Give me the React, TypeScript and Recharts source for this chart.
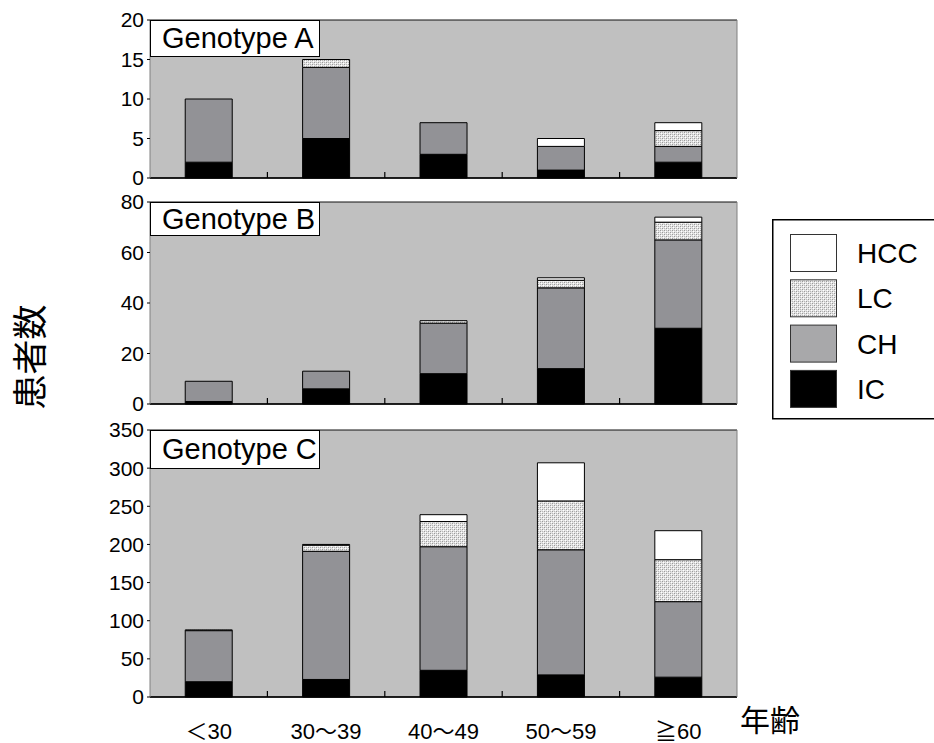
import { BarChart, Bar, XAxis, YAxis, CartesianGrid } from 'recharts';

const AGES = ['＜30', '30～39', '40～49', '50～59', '≧60'];

// Genotype A
const A_IC = [2, 5, 3, 1, 2];
const A_CH = [8, 9, 4, 3, 2];
const A_LC = [0, 1, 0, 0, 2];
const A_HCC = [0, 0, 0, 1, 1];

// Genotype B
const B_IC = [1, 6, 12, 14, 30];
const B_CH = [8, 7, 20, 32, 35];
const B_LC = [0, 0, 1, 3, 7];
const B_HCC = [0, 0, 0, 1, 2];

// Genotype C
const C_IC = [20, 23, 35, 29, 26];
const C_CH = [67, 168, 162, 164, 99];
const C_LC = [1, 8, 33, 64, 55];
const C_HCC = [0, 1, 9, 50, 38];

const A_TICKS = [0, 5, 10, 15, 20];
const B_TICKS = [0, 20, 40, 60, 80];
const C_TICKS = [0, 50, 100, 150, 200, 250, 300, 350];

const FONT = "'Liberation Sans', Arial, sans-serif";
const CJK = "'Liberation Sans', 'Noto Sans CJK JP', sans-serif";
const CH_GRAY = '#929296';
const LABEL_GAP = 26;

const SERIES = [
  { key: 'ic', name: 'IC', fill: '#000000' },
  { key: 'ch', name: 'CH', fill: CH_GRAY },
  { key: 'lc', name: 'LC', fill: 'lc' },
  { key: 'hcc', name: 'HCC', fill: '#ffffff' },
];

const toRows = (ic: number[], ch: number[], lc: number[], hcc: number[]) =>
  AGES.map((age, i) => ({ age, ic: ic[i], ch: ch[i], lc: lc[i], hcc: hcc[i] }));

function DotPattern({ id }: { id: string }) {
  return (
    <pattern id={id} width="4" height="4" patternUnits="userSpaceOnUse">
      <rect width="4" height="4" fill="#e4e4e4" />
      <rect x="0" y="0" width="1" height="1" fill="#9a9a9a" />
      <rect x="2" y="2" width="1" height="1" fill="#9a9a9a" />
      <rect x="1" y="1" width="1" height="1" fill="#ffffff" />
      <rect x="3" y="3" width="1" height="1" fill="#ffffff" />
      <rect x="2" y="0" width="1" height="1" fill="#b8b8b8" />
      <rect x="0" y="2" width="1" height="1" fill="#b8b8b8" />
    </pattern>
  );
}

// category tick: label under the bar plus a short upward mark at the right edge of the band
function AgeTick(props: any) {
  const { x, y, payload, index, showLabel, gap } = props;
  const base = y - gap;
  const edge = x + (payload?.offset ?? 0);
  return (
    <g>
      {index < AGES.length - 1 && (
        <line x1={edge} x2={edge} y1={base} y2={base - 6} stroke="#000" strokeWidth={1.2} />
      )}
      {showLabel && (
        <text x={x} y={y} dy="0.71em" textAnchor="middle" fontSize={22} fontFamily={CJK} fill="#000">
          {payload.value}
        </text>
      )}
    </g>
  );
}

type PanelProps = {
  id: string;
  rows: ReturnType<typeof toRows>;
  max: number;
  ticks: number[];
  top: number;
  height: number;
  marginTop: number;
  marginBottom: number;
  showAges?: boolean;
};

function Panel({ id, rows, max, ticks, top, height, marginTop, marginBottom, showAges }: PanelProps) {
  const gap = showAges ? LABEL_GAP : 0;
  return (
    <div style={{ position: 'absolute', left: 0, top, width: 934, height }}>
      <BarChart
        width={934}
        height={height}
        data={rows}
        margin={{ top: marginTop, right: 196, left: 0, bottom: marginBottom }}
        barCategoryGap="30%"
      >
        <defs>
          <DotPattern id={`lc-${id}`} />
        </defs>
        <CartesianGrid vertical={false} stroke="#111" fill="#c0c0c0" fillOpacity={1} />
        <XAxis
          dataKey="age"
          height={showAges ? 46 : 2}
          axisLine={{ stroke: '#000', strokeWidth: 1.5 }}
          tickLine={false}
          tickSize={0}
          tickMargin={gap}
          tick={<AgeTick showLabel={!!showAges} gap={gap} />}
          interval={0}
        />
        <YAxis
          yAxisId="l"
          width={150}
          domain={[0, max]}
          ticks={ticks}
          interval={0}
          axisLine={{ stroke: '#808080' }}
          tickSize={3}
          tickMargin={3}
          tickLine={{ stroke: '#000' }}
          tick={{ fontSize: 21, fill: '#000', fontFamily: FONT }}
        />
        <YAxis
          yAxisId="r"
          orientation="right"
          width={1}
          domain={[0, max]}
          ticks={ticks}
          axisLine={{ stroke: '#808080' }}
          tick={false}
          tickLine={false}
        />
        {SERIES.map(s => (
          <Bar
            key={s.key}
            dataKey={s.key}
            name={s.name}
            stackId="a"
            yAxisId="l"
            fill={s.fill === 'lc' ? `url(#lc-${id})` : s.fill}
            stroke="#000"
            strokeWidth={1}
            isAnimationActive={false}
          />
        ))}
      </BarChart>
    </div>
  );
}

function GenotypeBox({ text, top, height }: { text: string; top: number; height: number }) {
  return (
    <div
      style={{
        position: 'absolute',
        left: 150,
        top,
        width: 170,
        height,
        boxSizing: 'border-box',
        border: '1px solid #000',
        background: '#fff',
        fontFamily: FONT,
        fontSize: 29,
        lineHeight: `${height - 2}px`,
        paddingLeft: 11,
        color: '#000',
        whiteSpace: 'nowrap',
      }}
    >
      {text}
    </div>
  );
}

function LegendBox() {
  const items = [...SERIES].reverse();
  return (
    <svg width={162} height={201} style={{ position: 'absolute', left: 772, top: 219 }}>
      <defs>
        <DotPattern id="lc-legend" />
      </defs>
      <rect x={0.75} y={0.75} width={180} height={199} fill="#fff" stroke="#000" strokeWidth={1.5} />
      {items.map((s, i) => {
        const y = 15 + i * 45.3;
        return (
          <g key={s.key}>
            <rect
              x={18.5}
              y={y + 0.5}
              width={46}
              height={37}
              fill={s.fill === 'lc' ? 'url(#lc-legend)' : s.key === 'ch' ? '#a8a8aa' : s.fill}
              stroke="#333"
              strokeWidth={1}
            />
            <text x={85} y={y + 29} fontSize={28} fontFamily={FONT} fill="#000">
              {s.name}
            </text>
          </g>
        );
      })}
    </svg>
  );
}

export default function App() {
  return (
    <div style={{ position: 'absolute', left: 0, top: 0, width: 934, height: 743, background: '#fff', overflow: 'hidden' }}>
      <Panel id="a" rows={toRows(A_IC, A_CH, A_LC, A_HCC)} max={20} ticks={A_TICKS} top={0} height={190} marginTop={20} marginBottom={10} />
      <Panel id="b" rows={toRows(B_IC, B_CH, B_LC, B_HCC)} max={80} ticks={B_TICKS} top={190} height={225} marginTop={12} marginBottom={9} />
      <Panel id="c" rows={toRows(C_IC, C_CH, C_LC, C_HCC)} max={350} ticks={C_TICKS} top={415} height={328} marginTop={15} marginBottom={0} showAges />
      <GenotypeBox text="Genotype A" top={20} height={37} />
      <GenotypeBox text="Genotype B" top={202} height={34} />
      <GenotypeBox text="Genotype C" top={430} height={39} />
      <LegendBox />
      <div
        style={{
          position: 'absolute',
          left: 27,
          top: 357,
          transform: 'translate(-50%, -50%) rotate(-90deg)',
          fontFamily: "'Noto Sans CJK JP', sans-serif",
          fontSize: 35,
          whiteSpace: 'nowrap',
          color: '#000',
          lineHeight: 1,
        }}
      >
        患者数
      </div>
      <div
        style={{
          position: 'absolute',
          left: 740,
          top: 700,
          fontFamily: "'Noto Sans CJK JP', sans-serif",
          fontSize: 30,
          whiteSpace: 'nowrap',
          color: '#000',
          lineHeight: 1.2,
        }}
      >
        年齢
      </div>
    </div>
  );
}
